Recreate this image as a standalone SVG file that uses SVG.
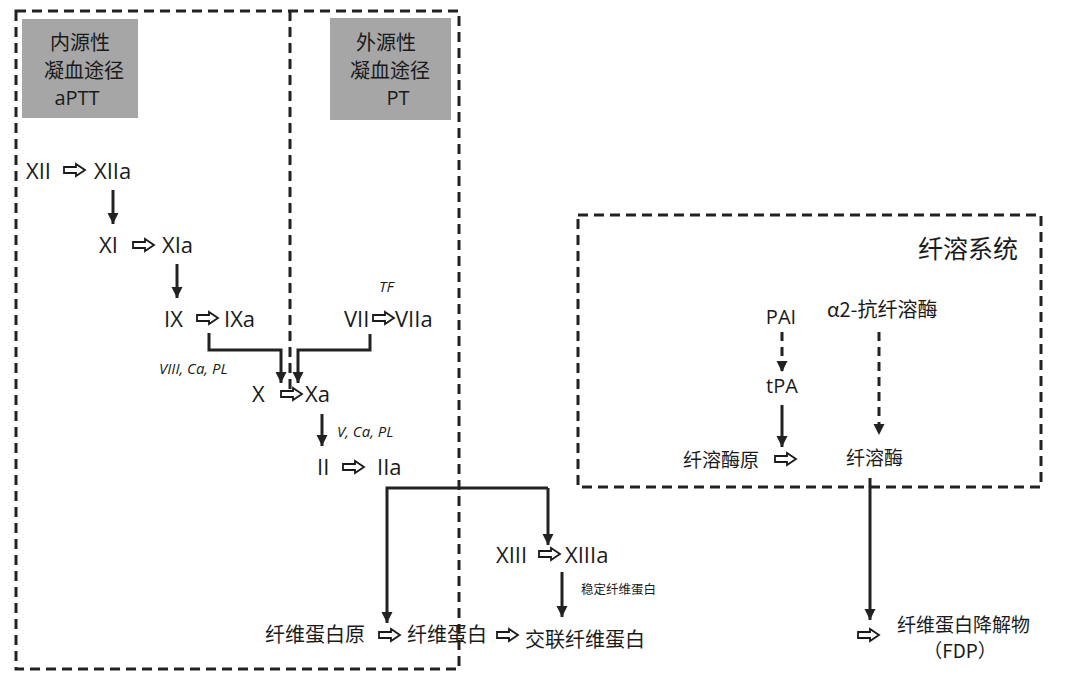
<svg xmlns="http://www.w3.org/2000/svg" width="1080" height="686" viewBox="0 0 1080 686">
<style>
.t{font-family:"Open Sans","Noto Sans CJK SC",sans-serif;fill:#1a1a1a}
.c{font-family:"Noto Sans CJK SC","Open Sans",sans-serif;fill:#1a1a1a}
.m{font-size:22px}
.i{font-family:"Open Sans",sans-serif;font-style:italic;font-size:15px;fill:#1a1a1a}
.box{fill:none;stroke:#222;stroke-width:3;stroke-dasharray:10 6}
.gray{fill:#a6a6a6}
.ln{fill:none;stroke:#222;stroke-width:3}
.dl{fill:none;stroke:#222;stroke-width:3;stroke-dasharray:9 6}
.ho{fill:#fff;stroke:#1a1a1a;stroke-width:1.8;stroke-linejoin:miter}
</style>
<defs>
<marker id="ah" viewBox="0 0 10 10" refX="10" refY="5" markerWidth="3.8" markerHeight="5" markerUnits="strokeWidth" orient="auto">
<path d="M0,0 L10,5 L0,10 Z" fill="#222"/>
</marker>
<path id="hol" class="ho" d="M0,-3 H12 V-6 L21,0 L12,6 V3 H0 Z"/>
</defs>

<g id="boundaries">
<rect class="box" x="16" y="11" width="443" height="658"/>
<line class="box" x1="290" y1="11" x2="290" y2="393"/>
<rect class="box" x="578" y="215" width="463" height="272"/>
</g>

<g id="intrinsic-label">
<rect class="gray" x="22" y="19" width="116" height="99"/>
<text class="c" x="80" y="50" font-size="20" text-anchor="middle">内源性</text>
<text class="c" x="84" y="78" font-size="20" text-anchor="middle">凝血途径</text>
<text class="t" x="77" y="105" font-size="20" text-anchor="middle">aPTT</text>
</g>
<g id="extrinsic-label">
<rect class="gray" x="330" y="18" width="121" height="102"/>
<text class="c" x="386" y="50" font-size="20" text-anchor="middle">外源性</text>
<text class="c" x="390" y="78" font-size="20" text-anchor="middle">凝血途径</text>
<text class="t" x="398" y="105" font-size="20" text-anchor="middle">PT</text>
</g>

<g id="XII">
<text class="t m" x="26" y="179">XII</text>
<use href="#hol" x="64" y="170"/>
<text class="t m" x="94" y="179">XIIa</text>
</g>
<g id="XI">
<text class="t m" x="99" y="253">XI</text>
<use href="#hol" x="133" y="245"/>
<text class="t m" x="162" y="253">XIa</text>
</g>
<g id="IX">
<text class="t m" x="164" y="327">IX</text>
<use href="#hol" x="197" y="318"/>
<text class="t m" x="224" y="327">IXa</text>
</g>
<g id="VII">
<text class="i" x="379" y="292">TF</text>
<text class="t m" x="344" y="327">VII</text>
<use href="#hol" x="373" y="318"/>
<text class="t m" x="395" y="327">VIIa</text>
</g>
<g id="cofactor1">
<text class="i" x="159" y="374">VIII, Ca, PL</text>
</g>
<g id="X">
<text class="t m" x="252" y="402">X</text>
<use href="#hol" x="281" y="394"/>
<text class="t m" x="305" y="402">Xa</text>
</g>
<g id="cofactor2">
<text class="i" x="337" y="437">V, Ca, PL</text>
</g>
<g id="II">
<text class="t m" x="317" y="475">II</text>
<use href="#hol" x="343" y="467"/>
<text class="t m" x="377" y="475">IIa</text>
</g>
<g id="XIII">
<text class="t m" x="496" y="563">XIII</text>
<use href="#hol" x="539" y="554"/>
<text class="t m" x="565" y="563">XIIIa</text>
</g>
<g id="stabilize">
<text class="c" x="581" y="594" font-size="12.5">稳定纤维蛋白</text>
</g>
<g id="fibrinogen">
<text class="c" x="265" y="642" font-size="20">纤维蛋白原</text>
<use href="#hol" x="379" y="635"/>
</g>
<g id="fibrin">
<text class="c" x="407" y="642" font-size="20">纤维蛋白</text>
<use href="#hol" x="497" y="635"/>
</g>
<g id="crosslinked">
<text class="c" x="525" y="647" font-size="20">交联纤维蛋白</text>
</g>

<g id="fibrinolysis-title">
<text class="c" x="918" y="258" font-size="25">纤溶系统</text>
</g>
<g id="PAI">
<text class="t" x="781" y="324" font-size="20" text-anchor="middle">PAI</text>
</g>
<g id="a2AP">
<text class="c" x="827" y="317" font-size="20">α2-抗纤溶酶</text>
</g>
<g id="tPA">
<text class="t" x="782" y="393" font-size="20" text-anchor="middle">tPA</text>
</g>
<g id="plasminogen">
<text class="c" x="683" y="467" font-size="19">纤溶酶原</text>
<use href="#hol" x="775" y="459"/>
</g>
<g id="plasmin">
<text class="c" x="846" y="465" font-size="19">纤溶酶</text>
</g>
<g id="FDP">
<use href="#hol" x="858" y="635"/>
<text class="c" x="897" y="632" font-size="19">纤维蛋白降解物</text>
<text class="c" x="960" y="658" font-size="19" text-anchor="middle">（FDP）</text>
</g>

<g id="connectors">
<line class="ln" x1="113" y1="190" x2="113" y2="224" marker-end="url(#ah)"/>
<line class="ln" x1="177" y1="264" x2="177" y2="298" marker-end="url(#ah)"/>
<polyline class="ln" points="209,333 209,350 281,350 281,383" marker-end="url(#ah)"/>
<polyline class="ln" points="370,334 370,350 298,350 298,383" marker-end="url(#ah)"/>
<line class="ln" x1="322" y1="414" x2="322" y2="446" marker-end="url(#ah)"/>
<polyline class="ln" points="548,488 387,488 387,623" marker-end="url(#ah)"/>
<line class="ln" x1="548" y1="488" x2="548" y2="545" marker-end="url(#ah)"/>
<line class="ln" x1="562" y1="572" x2="562" y2="617" marker-end="url(#ah)"/>
<line class="dl" x1="782" y1="332" x2="782" y2="372" marker-end="url(#ah)"/>
<line class="ln" x1="782" y1="405" x2="782" y2="447" marker-end="url(#ah)"/>
<line class="dl" x1="879" y1="332" x2="879" y2="435" marker-end="url(#ah)"/>
<line class="ln" x1="870" y1="478" x2="870" y2="620" marker-end="url(#ah)"/>
</g>
</svg>
